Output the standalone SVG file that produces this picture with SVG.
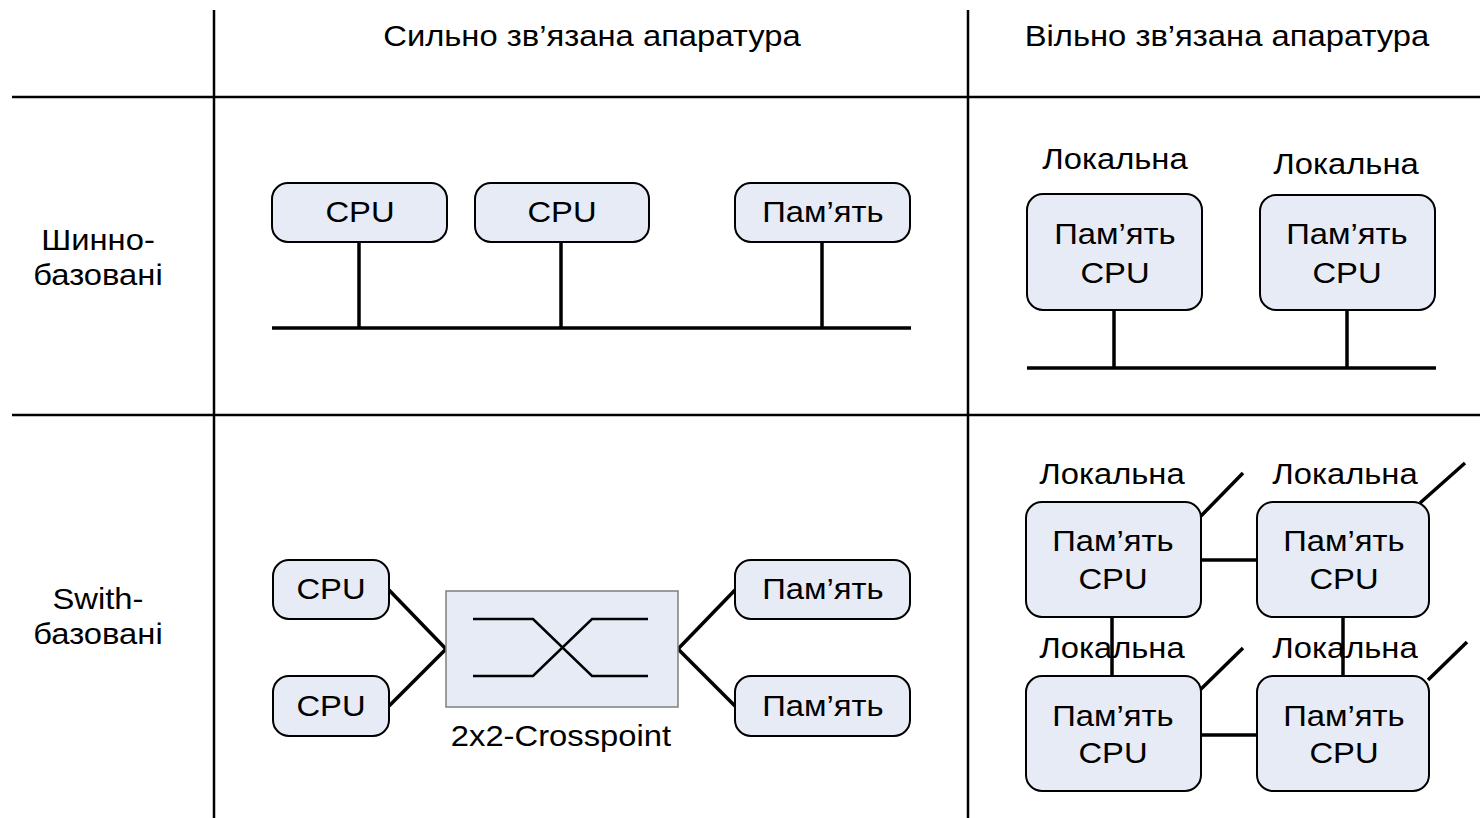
<svg xmlns="http://www.w3.org/2000/svg" width="1480" height="818" viewBox="0 0 1480 818">
<style>
text{font-family:"Liberation Sans",Arial,sans-serif;font-size:29px;fill:#000;text-anchor:middle;transform-box:fill-box;transform-origin:center;transform:scaleX(1.13)}
.box{fill:#e6ebf5;stroke:#000;stroke-width:2}
.grid{stroke:#000;stroke-width:2.5;fill:none}
.ln{stroke:#000;stroke-width:3.5;fill:none}
.xp{stroke:#000;stroke-width:2.5;fill:none}
</style>
<rect width="1480" height="818" fill="#fff"/>
<g id="grid">
<line class="grid" x1="214" y1="10" x2="214" y2="818"/>
<line class="grid" x1="968" y1="10" x2="968" y2="818"/>
<line class="grid" x1="12" y1="97" x2="1480" y2="97"/>
<line class="grid" x1="12" y1="415" x2="1480" y2="415"/>
</g>
<g id="headers">
<text x="592" y="46">Сильно зв’язана апаратура</text>
<text x="1227" y="46">Вільно зв’язана апаратура</text>
<text x="98" y="250">Шинно-</text>
<text x="98" y="285">базовані</text>
<text x="98" y="609">Swith-</text>
<text x="98" y="644">базовані</text>
</g>
<g id="connectors">
<line class="ln" x1="272" y1="328" x2="911" y2="328"/>
<line class="ln" x1="359" y1="242" x2="359" y2="328"/>
<line class="ln" x1="561" y1="242" x2="561" y2="328"/>
<line class="ln" x1="822" y1="242" x2="822" y2="328"/>
<line class="ln" x1="1027" y1="368" x2="1436" y2="368"/>
<line class="ln" x1="1114" y1="310" x2="1114" y2="368"/>
<line class="ln" x1="1347" y1="310" x2="1347" y2="368"/>
<line class="ln" x1="389" y1="590" x2="446" y2="649"/>
<line class="ln" x1="389" y1="706" x2="446" y2="649"/>
<line class="ln" x1="678" y1="649" x2="735" y2="590"/>
<line class="ln" x1="678" y1="649" x2="735" y2="706"/>
<line class="ln" x1="1201" y1="560" x2="1257" y2="560"/>
<line class="ln" x1="1201" y1="735" x2="1257" y2="735"/>
<line class="ln" x1="1112" y1="617" x2="1112" y2="676"/>
<line class="ln" x1="1343" y1="617" x2="1343" y2="676"/>
<line class="ln" x1="1200" y1="517" x2="1243" y2="473"/>
<line class="ln" x1="1420" y1="503" x2="1465" y2="463"/>
<line class="ln" x1="1200" y1="690" x2="1243" y2="648"/>
<line class="ln" x1="1428" y1="680" x2="1467" y2="642"/>
</g>
<g id="cpu1"><rect class="box" x="272" y="183" width="175" height="59" rx="16"/><text x="360" y="222">CPU</text></g>
<g id="cpu2"><rect class="box" x="475" y="183" width="174" height="59" rx="16"/><text x="562" y="222">CPU</text></g>
<g id="mem1"><rect class="box" x="735" y="183" width="175" height="59" rx="16"/><text x="823" y="222">Пам’ять</text></g>
<g id="loose1"><text x="1115" y="169">Локальна</text><rect class="box" x="1027" y="194" width="175" height="116" rx="16"/><text x="1115" y="244">Пам’ять</text><text x="1115" y="283">CPU</text></g>
<g id="loose2"><text x="1346" y="174">Локальна</text><rect class="box" x="1260" y="195" width="175" height="115" rx="16"/><text x="1347" y="244">Пам’ять</text><text x="1347" y="283">CPU</text></g>
<g id="cpu3"><rect class="box" x="273" y="560" width="116" height="59" rx="16"/><text x="331" y="599">CPU</text></g>
<g id="cpu4"><rect class="box" x="273" y="676" width="116" height="60" rx="16"/><text x="331" y="716">CPU</text></g>
<g id="crosspoint">
<rect x="446" y="591" width="232" height="116" fill="#e6ebf5" stroke="#7f7f7f" stroke-width="1.5"/>
<polyline class="xp" points="473,619 533,619 592,676 648,676"/>
<polyline class="xp" points="473,676 533,676 592,619 648,619"/>
<text x="561" y="746">2x2-Crosspoint</text>
</g>
<g id="mem2"><rect class="box" x="735" y="560" width="175" height="59" rx="16"/><text x="823" y="599">Пам’ять</text></g>
<g id="mem3"><rect class="box" x="735" y="676" width="175" height="60" rx="16"/><text x="823" y="716">Пам’ять</text></g>
<g id="sw1"><text x="1112" y="484">Локальна</text><rect class="box" x="1026" y="502" width="175" height="115" rx="16"/><text x="1113" y="551">Пам’ять</text><text x="1113" y="589">CPU</text></g>
<g id="sw2"><text x="1345" y="484">Локальна</text><rect class="box" x="1257" y="502" width="172" height="115" rx="16"/><text x="1344" y="551">Пам’ять</text><text x="1344" y="589">CPU</text></g>
<g id="sw3"><text x="1112" y="658">Локальна</text><rect class="box" x="1026" y="676" width="175" height="115" rx="16"/><text x="1113" y="726">Пам’ять</text><text x="1113" y="763">CPU</text></g>
<g id="sw4"><text x="1345" y="658">Локальна</text><rect class="box" x="1257" y="676" width="172" height="115" rx="16"/><text x="1344" y="726">Пам’ять</text><text x="1344" y="763">CPU</text></g>
</svg>
